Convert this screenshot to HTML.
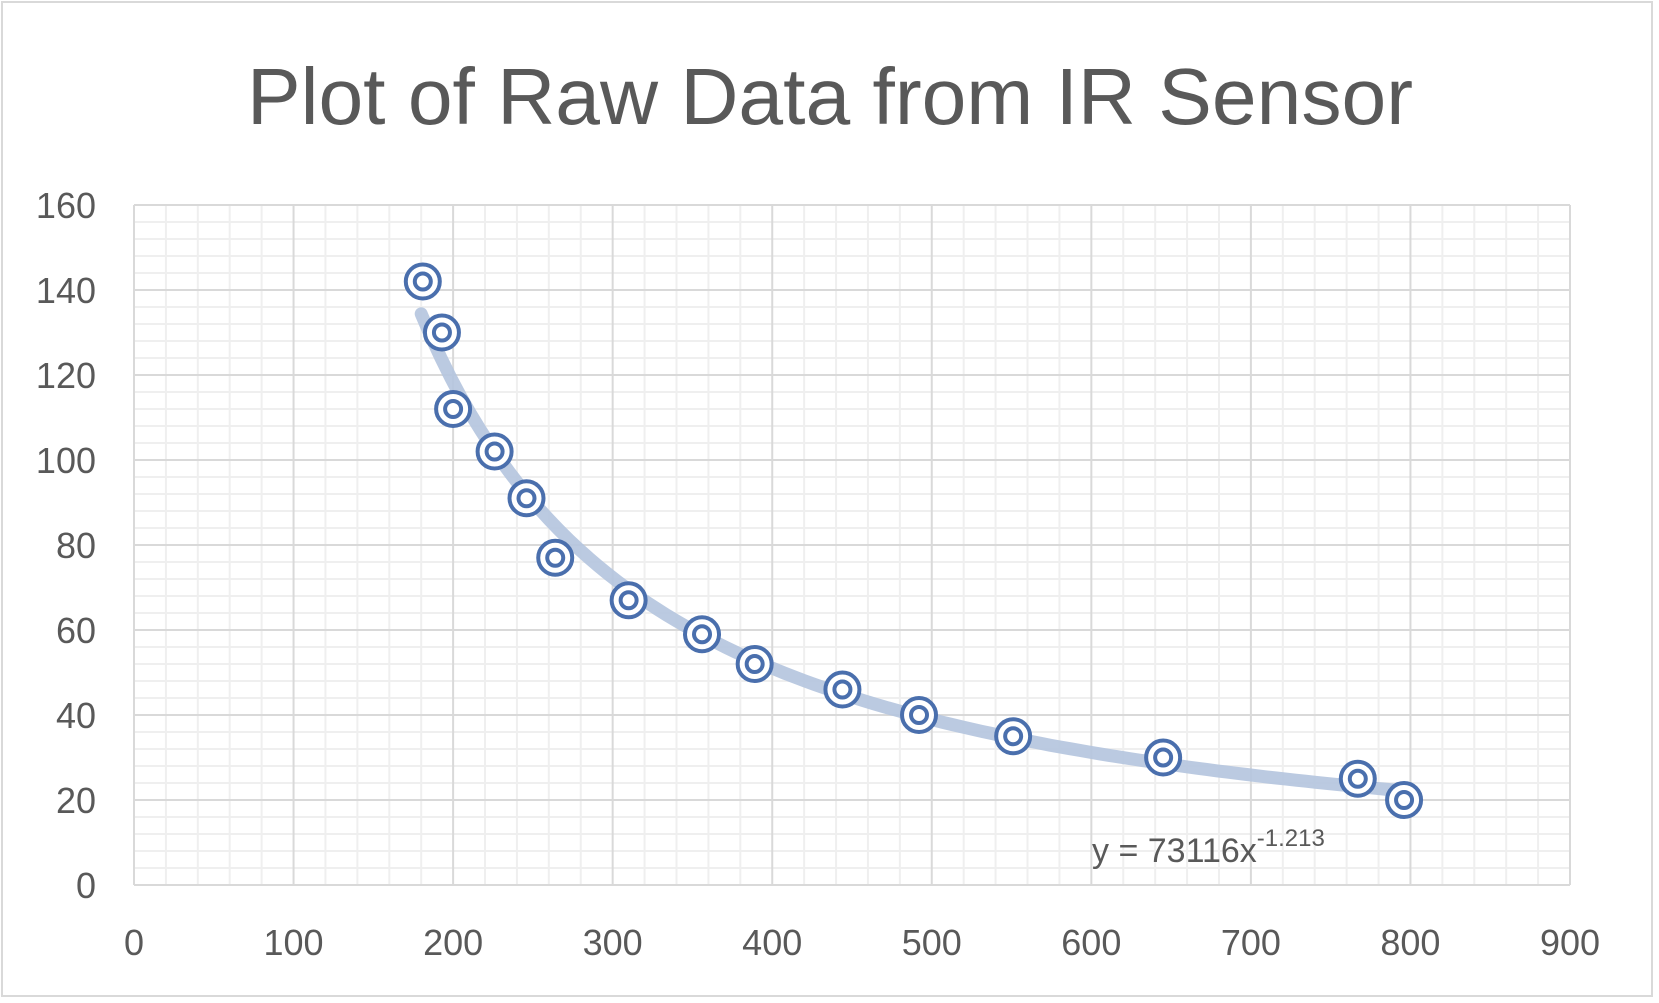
<!DOCTYPE html>
<html><head><meta charset="utf-8"><style>
html,body{margin:0;padding:0;background:#fff;}
svg{display:block;font-family:"Liberation Sans",sans-serif;}
</style></head><body>
<svg id="chart" width="1659" height="1003" xmlns="http://www.w3.org/2000/svg">
<rect x="2" y="2" width="1650" height="994" fill="#fff" stroke="#d9d9d9" stroke-width="2"/>
<text x="830" y="124" text-anchor="middle" font-size="80" fill="#595959" textLength="1166" lengthAdjust="spacingAndGlyphs">Plot of Raw Data from IR Sensor</text>
<g id="grid"></g>
<g id="axes"></g>
<g id="trend"></g>
<g id="points"></g>
<text x="1092" y="862" font-size="34" fill="#595959">y = 73116x<tspan dy="-16" font-size="24">-1.213</tspan></text>
</svg>
<script>
const xTicks=[0,100,200,300,400,500,600,700,800,900];
const yTicks=[0,20,40,60,80,100,120,140,160];
const xValues=[181,193,200,226,246,264,310,356,389,444,492,551,645,767,796];
const yValues=[142,130,112,102,91,77,67,59,52,46,40,35,30,25,20];
const trendCoef=73116, trendExp=-1.213;
const X0=134,X1=1570,Y0=885,Y1=205;
const xs=v=>X0+(v-0)/(900-0)*(X1-X0);
const ys=v=>Y0-(v-0)/(160-0)*(Y0-Y1);
const NS="http://www.w3.org/2000/svg";
function mk(tag,attrs,parent){const e=document.createElementNS(NS,tag);for(const k in attrs)e.setAttribute(k,attrs[k]);parent.appendChild(e);return e;}
const grid=document.getElementById('grid'),axes=document.getElementById('axes');
for(let v=0;v<=900;v+=20){if(v%100===0)continue;const l=mk('line',{x1:xs(v),x2:xs(v),y1:Y1,y2:Y0,stroke:'#efefef','stroke-width':2},grid);

}
for(let v=0;v<=160;v+=4){if(v%20===0)continue;const l=mk('line',{x1:X0,x2:X1,y1:ys(v),y2:ys(v),stroke:'#efefef','stroke-width':2},grid);

}
xTicks.forEach(v=>{const l=mk('line',{x1:xs(v),x2:xs(v),y1:Y1,y2:Y0,stroke:'#d9d9d9','stroke-width':2},grid);


const t=mk('text',{x:xs(v),y:955,'text-anchor':'middle','font-size':36,fill:'#595959'},axes);t.textContent=v;

});
yTicks.forEach(v=>{const l=mk('line',{x1:X0,x2:X1,y1:ys(v),y2:ys(v),stroke:'#d9d9d9','stroke-width':2},grid);


const t=mk('text',{x:96,y:ys(v)+13,'text-anchor':'end','font-size':36,fill:'#595959'},axes);t.textContent=v;

});
const xmin=Math.min(...xValues)-1,xmax=Math.max(...xValues);let d='';
for(let i=0;i<=100;i++){const x=xmin+(xmax-xmin)*i/100;const y=trendCoef*Math.pow(x,trendExp);d+=(i?'L':'M')+xs(x).toFixed(1)+','+ys(y).toFixed(1);}
const tp=mk('path',{d:d,fill:'none',stroke:'#b4c4de','stroke-width':13,'stroke-linecap':'round',opacity:0.9},document.getElementById('trend'));


const pg=document.getElementById('points');
xValues.forEach((xv,i)=>{const g=mk('g',{},pg);


const cx=xs(xv),cy=ys(yValues[i]);
mk('circle',{cx:cx,cy:cy,r:17,fill:'#fff',stroke:'#4a6fad','stroke-width':4},g);
mk('circle',{cx:cx,cy:cy,r:8,fill:'none',stroke:'#4a6fad','stroke-width':4},g);});
</script>
</body></html>
